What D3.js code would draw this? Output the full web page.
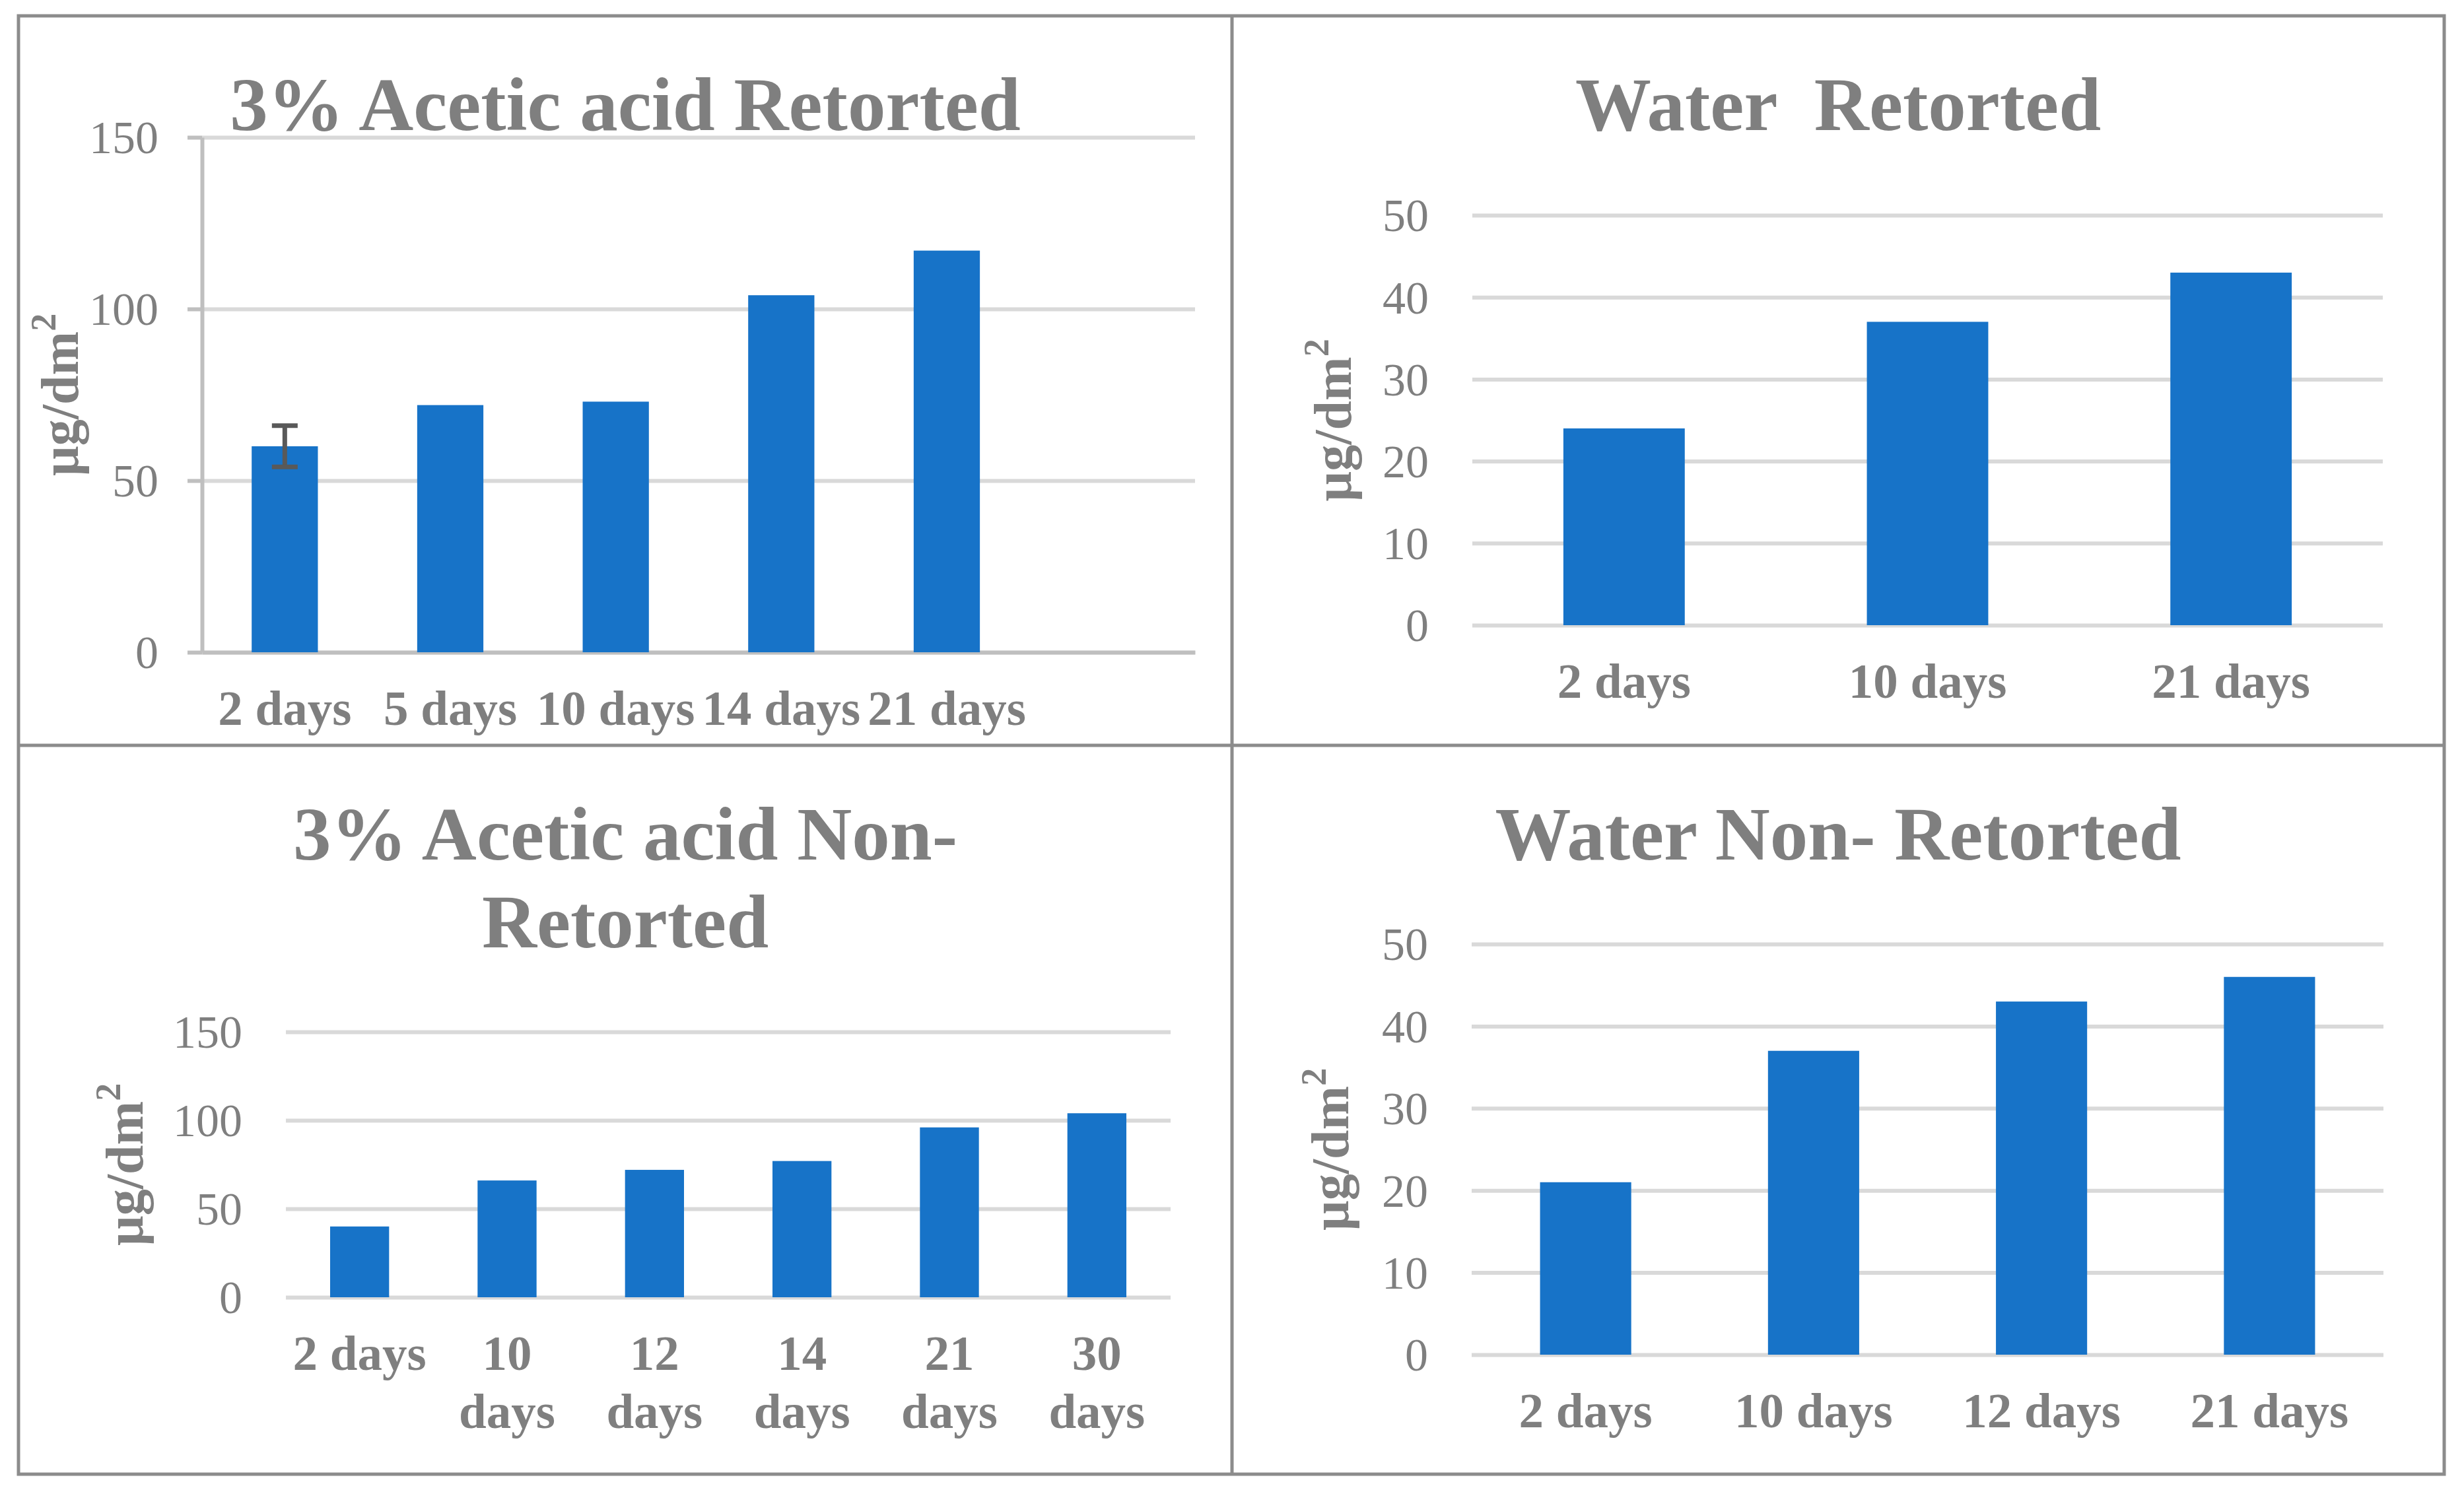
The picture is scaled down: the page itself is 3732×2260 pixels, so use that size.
<!DOCTYPE html>
<html>
<head>
<meta charset="utf-8">
<script src="https://cdn.jsdelivr.net/npm/d3@7"></script>
<style>
body { margin: 0; background: #fff; }
text { font-family: "Liberation Serif", "Times New Roman", serif; }
.title { white-space: pre; }
</style>
</head>
<body>
<div id="chart"></div>
<script>
var svgWidth = 3732;
var svgHeight = 2260;

// ---- data ----
var acidRetDays = ["2 days", "5 days", "10 days", "14 days", "21 days"];
var acidRetValues = [60, 72, 73, 104, 117];
var acidRetErrors = [6, null, null, null, null];
var acidTicks = [0, 50, 100, 150];

var waterRetDays = ["2 days", "10 days", "21 days"];
var waterRetValues = [24, 37, 43];

var acidNonDays = ["2 days", "10 days", "12 days", "14 days", "21 days", "30 days"];
var acidNonValues = [40, 66, 72, 77, 96, 104];

var waterNonDays = ["2 days", "10 days", "12 days", "21 days"];
var waterNonValues = [21, 37, 43, 46];
var waterTicks = [0, 10, 20, 30, 40, 50];

var textColor = "#7f7f7f";
var barColor = "#1773c8";
var gridColor = "#d9d9d9";
var axisColor = "#bfbfbf";
var frameColor = "#8c8c8c";

var svg = d3.select('#chart')
    .append('svg')
    .attr('width', svgWidth)
    .attr('height', svgHeight);

svg.append('rect')
    .attr('width', svgWidth)
    .attr('height', svgHeight)
    .attr('fill', '#fff');

// panel settings (layout only)
var panels = [
    {title: ["3% Acetic acid Retorted"], days: acidRetDays, values: acidRetValues, errors: acidRetErrors,
     ticks: acidTicks, box: [28, 24, 1866, 1129], plot: [306, 1810, 208, 988], blank: 1,
     axisLine: true, wrap: false, yTitleX: 118},
    {title: ["Water  Retorted"], days: waterRetDays, values: waterRetValues, errors: null,
     ticks: waterTicks, box: [1866, 24, 3702, 1129], plot: [2230, 3609, 326, 947], blank: 0,
     axisLine: false, wrap: false, yTitleX: 2046},
    {title: ["3% Acetic acid Non-", "Retorted"], days: acidNonDays, values: acidNonValues, errors: null,
     ticks: acidTicks, box: [28, 1129, 1866, 2233], plot: [433, 1773, 1563, 1965], blank: 0,
     axisLine: false, wrap: true, yTitleX: 216},
    {title: ["Water Non- Retorted"], days: waterNonDays, values: waterNonValues, errors: null,
     ticks: waterTicks, box: [1866, 1129, 3702, 2233], plot: [2229, 3610, 1430, 2052], blank: 0,
     axisLine: false, wrap: false, yTitleX: 2042}
];

function drawPanel(p) {
    var left = p.plot[0], right = p.plot[1], top = p.plot[2], bottom = p.plot[3];
    var g = svg.append('g');

    var domain = p.days.concat(d3.range(p.blank).map(function(i) { return "_blank" + i; }));
    var xScale = d3.scaleBand()
        .domain(domain)
        .range([left, right])
        .paddingInner(0.6)
        .paddingOuter(0.3);

    var yScale = d3.scaleLinear()
        .domain([0, d3.max(p.ticks)])
        .range([bottom, top]);

    // gridlines
    var grid = g.append('g')
        .attr('transform', `translate(${left},0)`)
        .call(d3.axisLeft(yScale).tickValues(p.ticks).tickSize(-(right - left)).tickFormat(''));
    grid.select('.domain').remove();
    grid.selectAll('line').attr('stroke', gridColor).attr('stroke-width', 6);

    // tick labels
    var yLabels = g.append('g')
        .attr('transform', `translate(${left},0)`)
        .call(d3.axisLeft(yScale).tickValues(p.ticks).tickSize(0).tickPadding(66));
    yLabels.select('.domain').remove();
    yLabels.selectAll('text')
        .attr('fill', textColor)
        .attr('font-size', 70)
        .attr('font-family', '"Liberation Serif", serif')
        .attr('dy', '0.34em');

    // axis lines (first chart only)
    if (p.axisLine) {
        var xAxisLine = g.append('g')
            .attr('transform', `translate(0,${bottom})`)
            .call(d3.axisBottom(xScale).tickSize(0).tickSizeOuter(0).tickFormat(''));
        xAxisLine.select('.domain').attr('stroke', axisColor).attr('stroke-width', 6);

        var yAxisLine = g.append('g')
            .attr('transform', `translate(${left},0)`)
            .call(d3.axisLeft(yScale).tickValues(p.ticks).tickSize(22).tickSizeOuter(0).tickFormat(''));
        yAxisLine.select('.domain').attr('stroke', axisColor).attr('stroke-width', 6);
        yAxisLine.selectAll('line').attr('stroke', axisColor).attr('stroke-width', 6);
    }

    // bars
    var rows = p.days.map(function(d, i) {
        return {day: d, value: p.values[i], err: p.errors ? p.errors[i] : null};
    });

    g.selectAll('.bar')
        .data(rows)
        .enter()
        .append('rect')
        .attr('class', 'bar')
        .attr('x', d => xScale(d.day))
        .attr('width', xScale.bandwidth())
        .attr('y', d => yScale(d.value))
        .attr('height', d => bottom - yScale(d.value))
        .attr('fill', barColor);

    // error bars
    var errRows = rows.filter(d => d.err != null);
    var errG = g.selectAll('.err')
        .data(errRows)
        .enter()
        .append('g')
        .attr('class', 'err')
        .attr('stroke', '#595959')
        .attr('stroke-width', 7);
    errG.append('line')
        .attr('x1', d => xScale(d.day) + xScale.bandwidth() / 2)
        .attr('x2', d => xScale(d.day) + xScale.bandwidth() / 2)
        .attr('y1', d => yScale(d.value - d.err))
        .attr('y2', d => yScale(d.value + d.err));
    [-1, 1].forEach(function(s) {
        errG.append('line')
            .attr('x1', d => xScale(d.day) + xScale.bandwidth() / 2 - 19.5)
            .attr('x2', d => xScale(d.day) + xScale.bandwidth() / 2 + 19.5)
            .attr('y1', d => yScale(d.value + s * d.err))
            .attr('y2', d => yScale(d.value + s * d.err));
    });

    // category labels
    var xLabels = g.append('g')
        .attr('transform', `translate(0,${bottom})`)
        .call(d3.axisBottom(xScale).tickValues(p.days).tickSize(0));
    xLabels.select('.domain').remove();
    xLabels.selectAll('text')
        .attr('fill', textColor)
        .attr('font-size', 75)
        .attr('font-weight', 'bold')
        .attr('font-family', '"Liberation Serif", serif')
        .attr('y', 110)
        .attr('dy', 0);

    if (p.wrap) {
        var step = xScale.step();
        xLabels.selectAll('text').each(function(d) {
            var t = d3.select(this);
            if (this.getComputedTextLength() > step * 0.98) {
                var words = d.split(' ');
                t.text(null);
                words.forEach(function(w, i) {
                    t.append('tspan')
                        .attr('x', 0)
                        .attr('dy', i == 0 ? 0 : 88)
                        .text(w);
                });
            }
        });
    }

    // chart title
    var cx = (p.box[0] + p.box[2]) / 2;
    g.selectAll('.title')
        .data(p.title)
        .enter()
        .append('text')
        .attr('class', 'title')
        .attr('x', cx)
        .attr('y', (d, i) => p.box[1] + 173 + i * 133)
        .attr('text-anchor', 'middle')
        .attr('font-size', 115)
        .attr('font-weight', 'bold')
        .attr('fill', textColor)
        .text(d => d);

    // y axis title
    var yTitle = g.append('text')
        .attr('transform', `translate(${p.yTitleX},${(top + bottom) / 2}) rotate(-90)`)
        .attr('text-anchor', 'middle')
        .attr('font-size', 80)
        .attr('font-weight', 'bold')
        .attr('fill', textColor);
    yTitle.append('tspan').text('µg/dm');
    yTitle.append('tspan')
        .attr('font-size', 54)
        .attr('dy', -34)
        .text('2');
}

panels.forEach(drawPanel);

// frame around the four charts
var frame = svg.append('g')
    .attr('fill', 'none')
    .attr('stroke', frameColor)
    .attr('stroke-width', 5);
frame.append('rect')
    .attr('x', 28).attr('y', 24)
    .attr('width', 3702 - 28).attr('height', 2233 - 24);
frame.append('line')
    .attr('x1', 1866).attr('x2', 1866).attr('y1', 24).attr('y2', 2233);
frame.append('line')
    .attr('x1', 28).attr('x2', 3702).attr('y1', 1129).attr('y2', 1129);
</script>
</body>
</html>
